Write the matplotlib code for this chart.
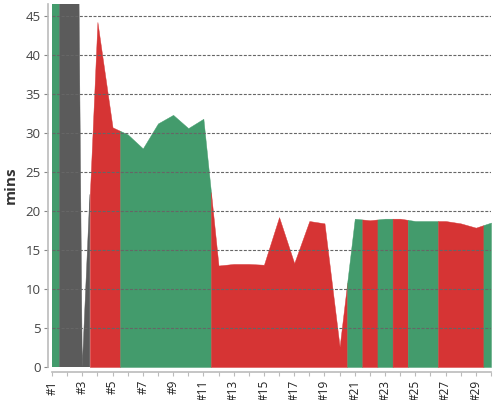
import matplotlib
matplotlib.use("Agg")
import matplotlib.pyplot as plt
import numpy as np

plt.rcParams['font.family'] = ['Open Sans', 'DejaVu Sans']

labels = ["#%d" % i for i in range(1, 31)]
values = [48, 220, 0, 44.2, 30.7, 29.8, 28.0, 31.2, 32.3, 30.6, 31.8,
          13.0, 13.2, 13.2, 13.1, 19.2, 13.3, 18.7, 18.4, 2.6,
          19.0, 18.8, 19.0, 19.0, 18.7, 18.7, 18.7, 18.4, 17.85, 18.5]
status = ['g', 'n', 'n', 'r', 'r', 'g', 'g', 'g', 'g', 'g', 'g',
          'r', 'r', 'r', 'r', 'r', 'r', 'r', 'r', 'r',
          'g', 'r', 'g', 'r', 'g', 'g', 'r', 'r', 'r', 'g']
palette = {'g': '#439b6c', 'r': '#d63434', 'n': '#5b5b5b'}

fig = plt.figure(figsize=(5, 4), dpi=100)
ax = fig.add_axes([52/500, 33/400, (491-52)/500, (367-4)/400])

x = np.arange(1, len(values) + 1)
v = np.array(values, dtype=float)
n = len(v)

# group contiguous runs of same status
runs = []
start = 0
for i in range(1, n + 1):
    if i == n or status[i] != status[start]:
        runs.append((start, i - 1))
        start = i
for s, e in runs:
    a = max(1, x[s] - 0.5)
    b = min(n, x[e] + 0.5)
    xs = [a] + list(x[s:e + 1]) + [b]
    ys = np.interp(xs, x, v)
    ax.fill_between(xs, 0, ys, color=palette[status[s]], linewidth=0.3,
                    edgecolor=palette[status[s]])

ax.set_xlim(1, n)
ax.set_ylim(0, 46.5)
ax.set_yticks(range(0, 46, 5))
ax.set_xticks(x[::2])
ax.set_xticklabels(labels[::2])
ax.set_xticks(x, minor=True)
for yv in range(5, 46, 5):
    ax.axhline(yv, color='#666666', linestyle=(0, (2.7, 1.4)), linewidth=0.8, zorder=3)

ax.tick_params(axis='y', labelsize=9.5, labelcolor='#444444', length=3, color='#888888', width=0.8, pad=2)
ax.tick_params(axis='x', which='both', length=3, color='#bbbbbb', width=0.8, pad=3)
ax.tick_params(axis='x', which='major', labelrotation=90, labelsize=8.5, labelcolor='#222222')

for s in ['top', 'right']:
    ax.spines[s].set_visible(False)
ax.spines['left'].set_position(('outward', 3))
ax.spines['bottom'].set_position(('outward', 3.4))
ax.spines['left'].set_color('#bbbbbb')
ax.spines['bottom'].set_color('#bbbbbb')
ax.spines['left'].set_linewidth(1.2)
ax.spines['bottom'].set_linewidth(1.2)

ax.set_ylabel('mins', fontsize=11, fontweight='bold', color='#333333', labelpad=6)

fig.savefig('out.png', dpi=100)
